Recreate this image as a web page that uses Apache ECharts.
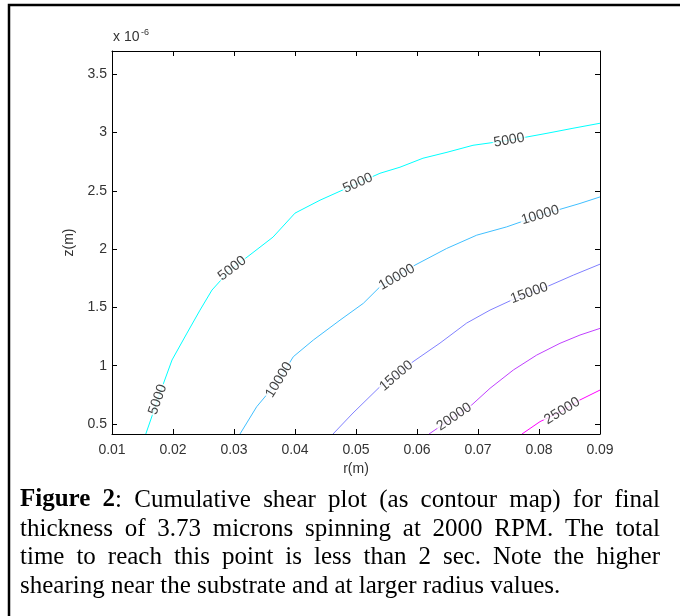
<!DOCTYPE html>
<html>
<head>
<meta charset="utf-8">
<title>Cumulative shear contour</title>
<script src="https://cdn.jsdelivr.net/npm/echarts@6/dist/echarts.min.js"></script>
<style>
  html, body { margin: 0; padding: 0; background: #fff; }
  #chart { width: 680px; height: 616px; }
</style>
</head>
<body>
<div id="chart"></div>
<script>
// contour levels, coloured like matlab's "cool" map
const levels = [5000, 10000, 15000, 20000, 25000]
const levelColors = ['#00ffff', '#40bfff', '#8080ff', '#bf40ff', '#ff00ff']

// contour paths: [r (m), z (x 1e-6 m)]
const line5000 = [
  [0.01554, 0.414], [0.01787, 0.766], [0.01984, 1.049], [0.02230, 1.280],
  [0.02443, 1.477], [0.02639, 1.649], [0.02934, 1.820], [0.03213, 1.931],
  [0.03639, 2.103], [0.04000, 2.309], [0.04410, 2.420], [0.05393, 2.651],
  [0.05721, 2.703], [0.06098, 2.780], [0.06492, 2.831], [0.06918, 2.891],
  [0.07508, 2.934], [0.08131, 2.994], [0.08557, 3.037], [0.09000, 3.080]
]
const line10000 = [
  [0.03098, 0.414], [0.03372, 0.648], [0.03738, 0.877], [0.03972, 1.077],
  [0.04300, 1.220], [0.04738, 1.391], [0.05120, 1.535], [0.05393, 1.677],
  [0.05672, 1.760], [0.05967, 1.863], [0.06487, 2.006], [0.06979, 2.120],
  [0.07470, 2.191], [0.08016, 2.291], [0.08672, 2.392], [0.09000, 2.448]
]
const line15000 = [
  [0.04623, 0.414], [0.04951, 0.594], [0.05393, 0.820], [0.05656, 0.911],
  [0.05934, 1.034], [0.06377, 1.194], [0.06815, 1.366], [0.07197, 1.477],
  [0.07552, 1.563], [0.07836, 1.623], [0.08126, 1.677], [0.08562, 1.777],
  [0.09000, 1.871]
]
const line20000 = [
  [0.06197, 0.414], [0.06607, 0.560], [0.06897, 0.663], [0.07197, 0.806],
  [0.07579, 0.963], [0.07962, 1.091], [0.08344, 1.192], [0.08672, 1.263],
  [0.09000, 1.320]
]
const line25000 = [
  [0.07721, 0.414], [0.08016, 0.520], [0.08377, 0.611], [0.08672, 0.706],
  [0.09000, 0.791]
]

// where the inline labels sit (r values along each contour)
const labelR5000 = [0.0175, 0.0297, 0.0503, 0.0751]
const labelR10000 = [0.0374, 0.0567, 0.0802]
const labelR15000 = [0.0566, 0.0784]
const labelR20000 = [0.0661]
const labelR25000 = [0.0838]

const xTicks = [0.01, 0.02, 0.03, 0.04, 0.05, 0.06, 0.07, 0.08, 0.09]
const yTicks = [0.5, 1, 1.5, 2, 2.5, 3, 3.5]

const captionLines = [
  ['*Figure*', '*2*:', 'Cumulative', 'shear', 'plot', '(as', 'contour', 'map)', 'for', 'final'],
  ['thickness', 'of', '3.73', 'microns', 'spinning', 'at', '2000', 'RPM.', 'The', 'total'],
  ['time', 'to', 'reach', 'this', 'point', 'is', 'less', 'than', '2', 'sec.', 'Note', 'the', 'higher'],
  ['shearing', 'near', 'the', 'substrate', 'and', 'at', 'larger', 'radius', 'values.']
]

const paths = [line5000, line10000, line15000, line20000, line25000]
const labelRs = [labelR5000, labelR10000, labelR15000, labelR20000, labelR25000]

const tickFont = 'Liberation Sans'
const capFont = 'Liberation Serif'
const capSize = 25
const textGrey = '#333'

function zAt(path, r) {
  for (let i = 0; i < path.length - 1; i++) {
    if (r >= path[i][0] && r <= path[i + 1][0]) {
      const t = (r - path[i][0]) / (path[i + 1][0] - path[i][0])
      return { z: path[i][1] + t * (path[i + 1][1] - path[i][1]), i: i }
    }
  }
  return { z: path[path.length - 1][1], i: path.length - 2 }
}

// caption words laid out justified like the printed figure
const measureCtx = document.createElement('canvas').getContext('2d')
function segs(word) {
  return word.split('*').map((t, k) => ({ text: t, bold: k % 2 === 1 })).filter(s => s.text)
}
function segWidth(s) {
  measureCtx.font = (s.bold ? 'bold ' : '') + capSize + 'px "' + capFont + '"'
  return measureCtx.measureText(s.text).width
}
function captionGraphics() {
  const out = []
  const x0 = 20
  const x1 = 660
  const ys = [500, 529, 557, 586]
  measureCtx.font = capSize + 'px "' + capFont + '"'
  const space = measureCtx.measureText(' ').width
  captionLines.forEach((words, li) => {
    const widths = words.map(w => segs(w).reduce((a, s) => a + segWidth(s), 0))
    const total = widths.reduce((a, b) => a + b, 0)
    const gap = li < captionLines.length - 1 ? (x1 - x0 - total) / (words.length - 1) : space
    let x = x0
    words.forEach((w, wi) => {
      segs(w).forEach(s => {
        out.push({
          type: 'text',
          x: x,
          y: ys[li],
          silent: true,
          style: {
            text: s.text,
            fill: '#000',
            fontFamily: capFont,
            fontSize: capSize,
            fontWeight: s.bold ? 'bold' : 'normal',
            verticalAlign: 'middle'
          }
        })
        x += segWidth(s)
      })
      x += gap
    })
  })
  return out
}

const chart = echarts.init(document.getElementById('chart'), null, { renderer: 'canvas' })

const axisCommon = {
  type: 'value',
  axisLine: { show: true, onZero: false, lineStyle: { color: '#000', width: 1 } },
  splitLine: { show: false }
}

const lineSeries = paths.map((p, k) => ({
  type: 'line',
  name: String(levels[k]),
  data: p,
  showSymbol: false,
  symbol: 'none',
  smooth: false,
  lineStyle: { color: levelColors[k], width: 1 },
  z: 2,
  silent: true
}))

function labelSeries(withAngles) {
  return paths.map((p, k) => ({
    type: 'scatter',
    data: labelRs[k].map(r => {
      const hit = zAt(p, r)
      let rot = 0
      if (withAngles) {
        const a = chart.convertToPixel({ gridIndex: 0 }, p[hit.i])
        const b = chart.convertToPixel({ gridIndex: 0 }, p[hit.i + 1])
        rot = Math.atan2(a[1] - b[1], b[0] - a[0]) * 180 / Math.PI
      }
      return { value: [r, hit.z], label: { rotate: rot } }
    }),
    symbolSize: 1,
    itemStyle: { color: 'rgba(0,0,0,0)' },
    label: {
      show: true,
      position: 'inside',
      formatter: String(levels[k]),
      color: '#111',
      fontFamily: tickFont,
      fontSize: 14,
      backgroundColor: '#fff',
      padding: [0, 1]
    },
    z: 5,
    silent: true
  }))
}

const option = {
  animation: false,
  backgroundColor: '#fff',
  grid: { left: 112, right: 80, top: 51, bottom: 182 },
  xAxis: [
    Object.assign({}, axisCommon, {
      min: 0.01, max: 0.09, position: 'bottom',
      axisTick: { inside: true, length: 5, customValues: xTicks, lineStyle: { color: '#000' } },
      axisLabel: { customValues: xTicks, color: textGrey, fontFamily: tickFont, fontSize: 14, margin: 9 },
      name: 'r(m)', nameLocation: 'middle', nameGap: 26,
      nameTextStyle: { color: textGrey, fontFamily: tickFont, fontSize: 14 }
    }),
    Object.assign({}, axisCommon, {
      min: 0.01, max: 0.09, position: 'top',
      axisTick: { inside: true, length: 5, customValues: xTicks, lineStyle: { color: '#000' } },
      axisLabel: { show: false }
    })
  ],
  yAxis: [
    Object.assign({}, axisCommon, {
      min: 0.414, max: 3.7, position: 'left',
      axisTick: { inside: true, length: 5, customValues: yTicks, lineStyle: { color: '#000' } },
      axisLabel: { customValues: yTicks, color: textGrey, fontFamily: tickFont, fontSize: 14, margin: 5 },
      name: 'z(m)', nameLocation: 'middle', nameGap: 29,
      nameTextStyle: { color: textGrey, fontFamily: tickFont, fontSize: 14 }
    }),
    Object.assign({}, axisCommon, {
      min: 0.414, max: 3.7, position: 'right',
      axisTick: { inside: true, length: 5, customValues: yTicks, lineStyle: { color: '#000' } },
      axisLabel: { show: false }
    })
  ],
  graphic: [
    {
      type: 'rect',
      shape: { x: 9, y: 5, width: 720, height: 720 },
      style: { fill: 'none', stroke: '#000', lineWidth: 2.5 },
      silent: true
    },
    {
      type: 'text', x: 113, y: 44, silent: true,
      style: { text: 'x 10', fill: textGrey, fontFamily: tickFont, fontSize: 14, verticalAlign: 'bottom' }
    },
    {
      type: 'text', x: 141, y: 37, silent: true,
      style: { text: '-6', fill: textGrey, fontFamily: tickFont, fontSize: 9, verticalAlign: 'bottom' }
    }
  ].concat(captionGraphics()),
  series: lineSeries.concat(labelSeries(false))
}

chart.setOption(option)
// second pass: labels follow the local direction of their contour
chart.setOption({ series: lineSeries.concat(labelSeries(true)) })
</script>
</body>
</html>
